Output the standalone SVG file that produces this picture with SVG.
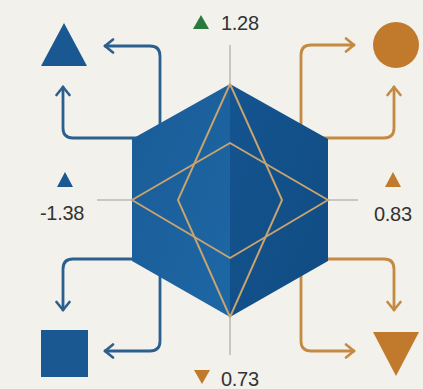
<svg xmlns="http://www.w3.org/2000/svg" width="423" height="389" viewBox="0 0 423 389">
<defs>
<style>
.lbl{font-family:"Liberation Sans",Arial,sans-serif;font-size:20px;fill:#333333;letter-spacing:-0.3px}
.axis{stroke:#b9b9b6;stroke-width:1.5;fill:none}
.cb{stroke:#2b5f8e;stroke-width:2.8;fill:none;stroke-linecap:round;marker-end:url(#ab)}
.co{stroke:#c58a42;stroke-width:2.8;fill:none;stroke-linecap:round;marker-end:url(#ao)}
.star{stroke:#c9a46e;stroke-width:1.9;fill:none;stroke-linejoin:round}
.blue{fill:#1a5891}
.orange{fill:#c17a2c}
</style>
<marker id="ab" viewBox="-10 -8 12 16" markerWidth="12" markerHeight="16" refX="0" refY="0" orient="auto" markerUnits="userSpaceOnUse">
<path d="M-8,-6.5 L0,0 L-8,6.5" fill="none" stroke="#2b5f8e" stroke-width="2.6" stroke-linecap="round" stroke-linejoin="round"/>
</marker>
<marker id="ao" viewBox="-10 -8 12 16" markerWidth="12" markerHeight="16" refX="0" refY="0" orient="auto" markerUnits="userSpaceOnUse">
<path d="M-8,-6.5 L0,0 L-8,6.5" fill="none" stroke="#c58a42" stroke-width="2.6" stroke-linecap="round" stroke-linejoin="round"/>
</marker>
<linearGradient id="gl" x1="0" y1="0" x2="1" y2="1">
<stop offset="0" stop-color="#1a5c97"/>
<stop offset="1" stop-color="#1d67a5"/>
</linearGradient>
<linearGradient id="gr" x1="0" y1="0" x2="1" y2="1">
<stop offset="0" stop-color="#145490"/>
<stop offset="1" stop-color="#114c82"/>
</linearGradient>
</defs>
<rect width="423" height="389" fill="#f2f1ec"/>

<g id="axes">
<line class="axis" x1="230" y1="45" x2="230" y2="86"/>
<line class="axis" x1="230" y1="315" x2="230" y2="355"/>
<line class="axis" x1="97" y1="200" x2="134" y2="200"/>
<line class="axis" x1="326" y1="200" x2="358" y2="200"/>
</g>

<g id="connectors">
<path class="cb" d="M160,130 V56 Q160,46 150,46 H105"/>
<path class="cb" d="M140,138 H73 Q63,138 63,128 V87"/>
<path class="cb" d="M140,259 H73 Q63,259 63,269 V310"/>
<path class="cb" d="M160,270 V341 Q160,351 150,351 H105"/>
<path class="co" d="M301,130 V55 Q301,45 311,45 H354"/>
<path class="co" d="M320,138 H384 Q394,138 394,128 V87"/>
<path class="co" d="M320,259 H384 Q394,259 394,269 V310"/>
<path class="co" d="M301,270 V341 Q301,351 311,351 H354"/>
</g>

<g id="hexagon">
<polygon points="230,84 132,139 132,261 230,317" fill="url(#gl)"/>
<polygon points="230,84 328,139 328,261 230,317" fill="url(#gr)"/>
<polygon class="star" points="132,200 230,143 328,200 230,258"/>
<polygon class="star" points="230,84 178,200 230,317 282,200"/>
</g>

<g id="top-left-triangle"><polygon class="blue" points="64,23 41,66 87,66"/></g>
<g id="top-right-circle"><circle class="orange" cx="396" cy="45" r="23"/></g>
<g id="bottom-left-square"><rect class="blue" x="41" y="330" width="47" height="47"/></g>
<g id="bottom-right-triangle"><polygon class="orange" points="373,332 419,332 396,376"/></g>

<g id="label-top">
<polygon points="201,15 193,29 209,29" fill="#2a7a3e"/>
<text class="lbl" x="221" y="30">1.28</text>
</g>
<g id="label-left">
<polygon class="blue" points="65,172 57,187 73,187"/>
<text class="lbl" x="40" y="220">-1.38</text>
</g>
<g id="label-right">
<polygon class="orange" points="393,172 385,187 401,187"/>
<text class="lbl" x="374" y="221">0.83</text>
</g>
<g id="label-bottom">
<polygon class="orange" points="194,370 210,370 202,384"/>
<text class="lbl" x="221" y="386">0.73</text>
</g>
</svg>
